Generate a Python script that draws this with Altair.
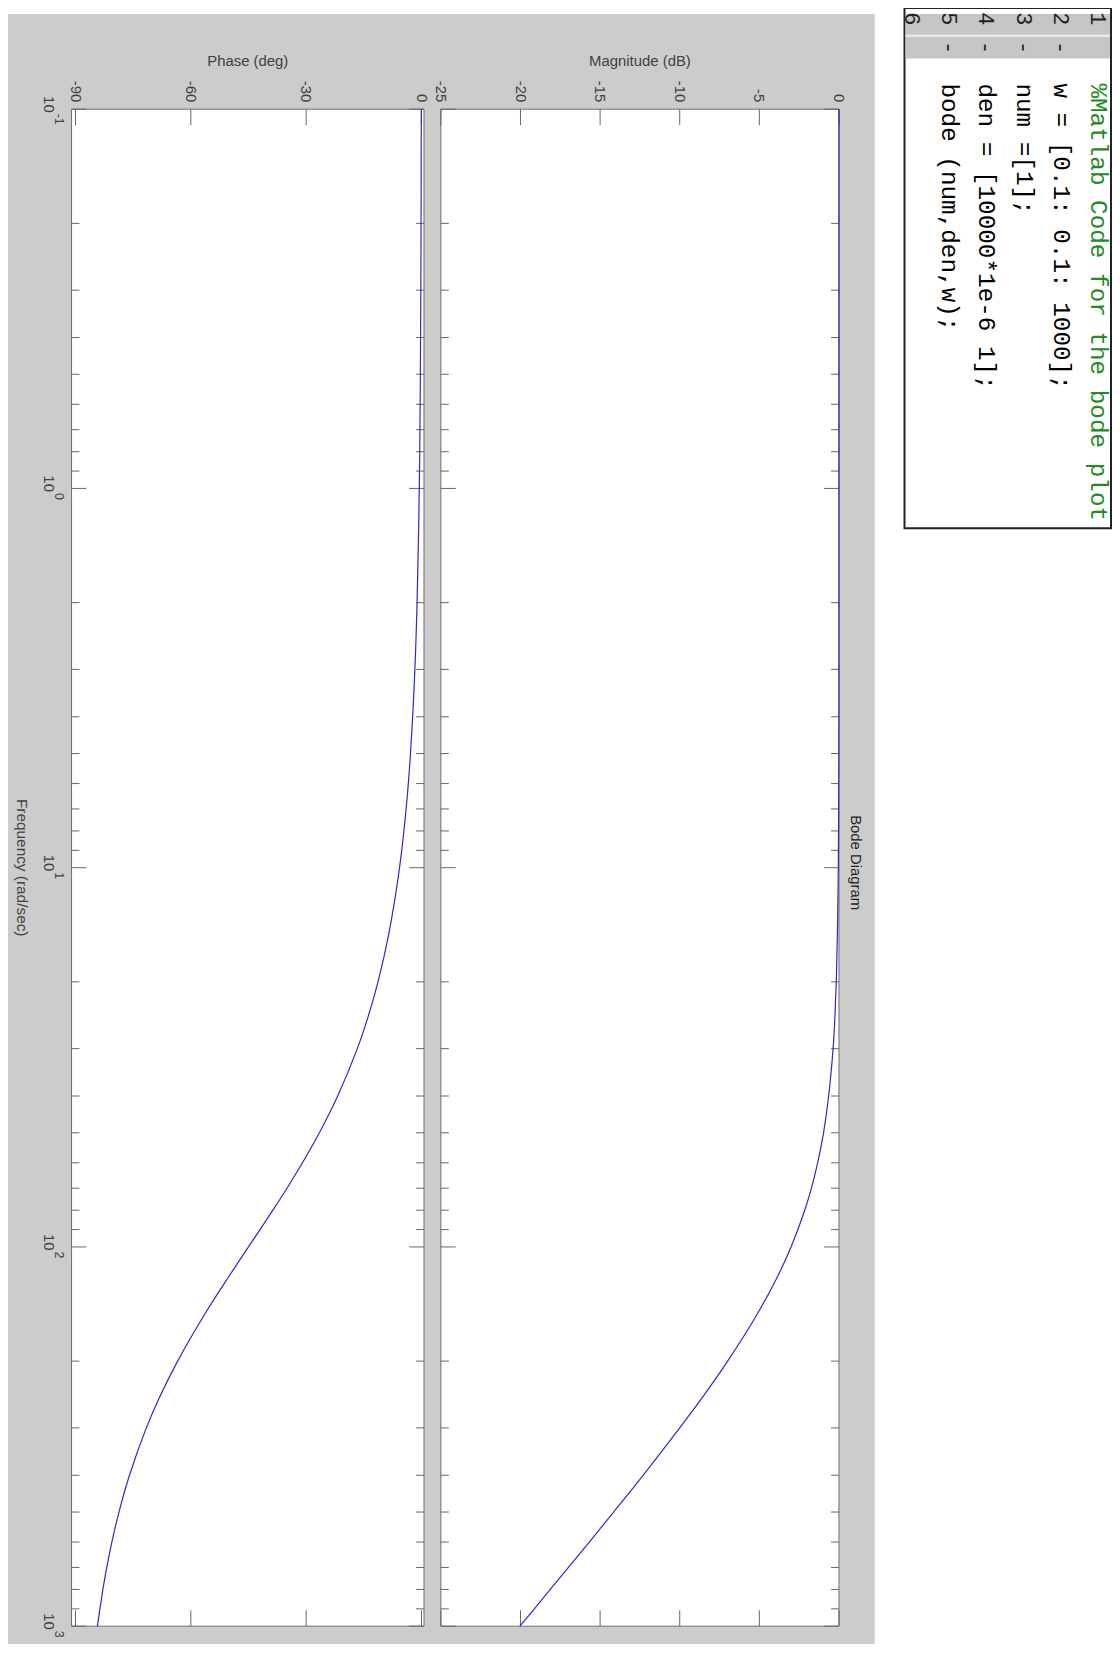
import altair as alt
import pandas as pd

# ---------------- data ----------------
freq = [0.1, 0.2, 0.5, 1, 2, 3, 5, 7, 10, 15, 20, 25, 30, 40, 50, 60, 70, 80,
        100, 120, 150, 200, 250, 300, 400, 500, 600, 700, 800, 900, 1000]
magnitude_db = [0.0, 0.0, 0.0, 0.0, 0.0, 0.0, -0.01, -0.02, -0.04, -0.1, -0.17, -0.26,
                -0.37, -0.65, -0.97, -1.34, -1.73, -2.15, -3.01, -3.87, -5.12, -6.99,
                -8.6, -10.0, -12.3, -14.15, -15.68, -16.99, -18.13, -19.13, -20.04]
phase_deg = [-0.06, -0.11, -0.29, -0.57, -1.15, -1.72, -2.86, -4.0, -5.71, -8.53, -11.31,
             -14.04, -16.7, -21.8, -26.57, -30.96, -34.99, -38.66, -45.0, -50.19, -56.31,
             -63.43, -68.2, -71.57, -75.96, -78.69, -80.54, -81.87, -82.87, -83.66, -84.29]

freq_major = [0.1, 1, 10, 100, 1000]
freq_major_base = ["10", "10", "10", "10", "10"]
freq_major_exp = ["-1", "0", "1", "2", "3"]
freq_minor = [0.2, 0.3, 0.4, 0.5, 0.6, 0.7, 0.8, 0.9,
              2, 3, 4, 5, 6, 7, 8, 9,
              20, 30, 40, 50, 60, 70, 80, 90,
              200, 300, 400, 500, 600, 700, 800, 900]
phase_ticks = [-90, -60, -30, 0]
phase_tick_labels = ["-90", "-60", "-30", "0"]
mag_ticks = [-25, -20, -15, -10, -5, 0]
mag_tick_labels = ["-25", "-20", "-15", "-10", "-5", "0"]

code_line_no = [1, 2, 3, 4, 5, 6]
code_text = ["%Matlab Code for the bode plot", "w = [0.1: 0.1: 1000];", "num =[1];",
             "den = [10000*1e-6 1];", "bode (num,den,w);", ""]
code_kind = ["comment", "code", "code", "code", "code", "code"]
code_marker = ["", "-", "-", "-", "-", ""]

# ---------------- layout / style ----------------
W, H = 1112, 1636
FONT = "Liberation Sans, Arial, Helvetica, sans-serif"
MONO = "Courier New, Liberation Mono, DejaVu Sans Mono, monospace"
TEXT = "#404040"
BORDER = "#6e6e6e"
TICK = "#666666"
LINE = "#2a2ac8"
FIG_GRAY = "#cccccc"

YS = alt.Scale(type="log", domain=[0.1, 1000], range=[96, 1624], nice=False)
PHASE_DOMAIN = [-91.03, 0.65]
MAG_DOMAIN = [-25, 0]
PS = alt.Scale(domain=PHASE_DOMAIN, range=[64, 419], nice=False, zero=False)
MS = alt.Scale(domain=MAG_DOMAIN, range=[436, 837], nice=False, zero=False)

one = pd.DataFrame({"a": [0]})
curve = pd.DataFrame({"f": freq, "mag": magnitude_db, "phase": phase_deg})


def q(v, scale):
    return dict(datum=v, type="quantitative", scale=scale, axis=None)


def panel_layers(xs, dom, xticks, xlabels, title, field, with_freq_labels):
    dmin, dmax = dom
    layers = []
    # plot box
    layers.append(alt.Chart(one).mark_rect(fill="white", stroke=BORDER, strokeWidth=1).encode(
        x=alt.X(**q(dmin, xs)), x2=alt.X2(datum=dmax),
        y=alt.Y(**q(0.1, YS)), y2=alt.Y2(datum=1000)))
    # frequency ticks, left and right, pointing inward
    for fvals, ln in ((freq_major, 15), (freq_minor, 8)):
        d = pd.DataFrame({"f": fvals})
        layers.append(alt.Chart(d).mark_rule(color=TICK, strokeWidth=1, x2Offset=ln).encode(
            y=alt.Y("f:Q", scale=YS, axis=None),
            x=alt.X(**q(dmin, xs)), x2=alt.X2(datum=dmin)))
        layers.append(alt.Chart(d).mark_rule(color=TICK, strokeWidth=1, x2Offset=-ln).encode(
            y=alt.Y("f:Q", scale=YS, axis=None),
            x=alt.X(**q(dmax, xs)), x2=alt.X2(datum=dmax)))
    # value ticks, top and bottom, pointing inward
    dx = pd.DataFrame({"v": xticks, "lab": xlabels})
    layers.append(alt.Chart(dx).mark_rule(color=TICK, strokeWidth=1, y2Offset=16).encode(
        x=alt.X("v:Q", scale=xs, axis=None),
        y=alt.Y(**q(0.1, YS)), y2=alt.Y2(datum=0.1)))
    layers.append(alt.Chart(dx).mark_rule(color=TICK, strokeWidth=1, y2Offset=-16).encode(
        x=alt.X("v:Q", scale=xs, axis=None),
        y=alt.Y(**q(1000, YS)), y2=alt.Y2(datum=1000)))
    # value tick labels (rotated, above the box)
    layers.append(alt.Chart(dx).mark_text(angle=90, align="right", baseline="middle",
                                          font=FONT, fontSize=15, color=TEXT,
                                          yOffset=-7).encode(
        x=alt.X("v:Q", scale=xs, axis=None),
        y=alt.Y(**q(0.1, YS)), text="lab:N"))
    # axis title
    layers.append(alt.Chart(one).mark_text(align="center", baseline="middle", font=FONT,
                                           fontSize=15, color=TEXT, yOffset=-49).encode(
        x=alt.X(**q((dmin + dmax) / 2, xs)),
        y=alt.Y(**q(0.1, YS)), text=alt.value(title)))
    if with_freq_labels:
        df_lab = pd.DataFrame({"f": freq_major, "base": freq_major_base,
                               "exp": freq_major_exp})
        layers.append(alt.Chart(df_lab).mark_text(angle=90, align="right", baseline="top",
                                                  font=FONT, fontSize=15, color=TEXT,
                                                  xOffset=-16, yOffset=3.5).encode(
            x=alt.X(**q(dmin, xs)), y=alt.Y("f:Q", scale=YS, axis=None), text="base:N"))
        layers.append(alt.Chart(df_lab).mark_text(angle=90, align="left", baseline="top",
                                                  font=FONT, fontSize=12.5, color=TEXT,
                                                  xOffset=-7, yOffset=4.5).encode(
            x=alt.X(**q(dmin, xs)), y=alt.Y("f:Q", scale=YS, axis=None), text="exp:N"))
        layers.append(alt.Chart(one).mark_text(angle=90, align="center", baseline="middle",
                                               font=FONT, fontSize=15.5, color=TEXT,
                                               xOffset=-50).encode(
            x=alt.X(**q(dmin, xs)), y=alt.Y(**q(10, YS)),
            text=alt.value("Frequency  (rad/sec)")))
    # response curve
    layers.append(alt.Chart(curve).mark_line(color=LINE, strokeWidth=1.2,
                                             interpolate="catmull-rom").encode(
        x=alt.X(f"{field}:Q", scale=xs, axis=None),
        y=alt.Y("f:Q", scale=YS, axis=None),
        order="f:Q"))
    return layers


phase_panel = alt.layer(*panel_layers(PS, PHASE_DOMAIN, phase_ticks, phase_tick_labels,
                                      "Phase (deg)", "phase", True))

bode_title = alt.Chart(one).mark_text(angle=90, align="center", baseline="middle",
                                      font=FONT, fontSize=15, color="#222222").encode(
    x=alt.X(**q(1.06, MS)), y=alt.Y(**q(9.7, YS)), text=alt.value("Bode Diagram"))
mag_panel = alt.layer(*panel_layers(MS, MAG_DOMAIN, mag_ticks, mag_tick_labels,
                                    "Magnitude (dB)", "mag", False), bode_title)

# ---------------- figure background ----------------
fig_bg = alt.Chart(one).mark_rect(fill=FIG_GRAY).encode(
    x=alt.value(0), x2=alt.value(873), y=alt.value(0), y2=alt.value(1649))

# ---------------- code editor box ----------------
code_df = pd.DataFrame({"line": code_line_no, "code": code_text, "kind": code_kind,
                        "marker": code_marker})
LS = alt.Scale(domain=[1, 6], range=[1098, 910.5])
code_box = alt.Chart(one).mark_rect(fill="white", stroke="#222222", strokeWidth=2).encode(
    x=alt.value(903), x2=alt.value(1111), y=alt.value(-6), y2=alt.value(518))
code_gutter = alt.Chart(one).mark_rect(fill="#c6c6c6").encode(
    x=alt.value(904), x2=alt.value(1110), y=alt.value(0), y2=alt.value(45))
code_sep = alt.Chart(one).mark_rule(color="#eeeeee", strokeWidth=2).encode(
    x=alt.value(904), x2=alt.value(1110), y=alt.value(22))
code_lines = alt.Chart(code_df).mark_text(angle=90, align="left", baseline="middle",
                                          font=MONO, fontSize=24.5).encode(
    x=alt.X("line:Q", scale=LS, axis=None),
    y=alt.value(70),
    text="code:N",
    color=alt.Color("kind:N", scale=alt.Scale(domain=["comment", "code"],
                                              range=["#228b22", "#000000"]), legend=None))
code_nums = alt.Chart(code_df).mark_text(angle=90, align="center", baseline="middle",
                                         font=MONO, fontSize=22, color="#222222").encode(
    x=alt.X("line:Q", scale=LS, axis=None), y=alt.value(5), text="line:N")
code_marks = alt.Chart(code_df).mark_text(angle=90, align="center", baseline="middle",
                                          font=MONO, fontSize=22, color="#222222").encode(
    x=alt.X("line:Q", scale=LS, axis=None), y=alt.value(34), text="marker:N")
code_panel = alt.layer(code_box, code_gutter, code_sep, code_lines, code_nums, code_marks)

chart = alt.layer(fig_bg, phase_panel, mag_panel, code_panel).resolve_scale(
    x="independent", color="independent"
).properties(
    width=W, height=H, padding=0, background="white",
    autosize=alt.AutoSizeParams(type="none")
).configure_view(stroke=None)

chart.save("out.html", embed_options={"renderer": "svg", "actions": False})
